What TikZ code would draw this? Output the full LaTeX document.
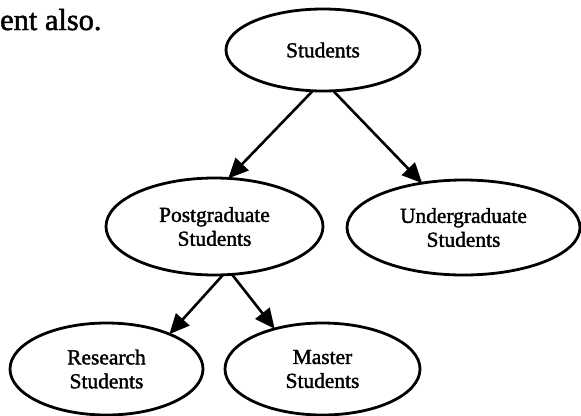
\documentclass[tikz,border=0pt]{standalone}
\usepackage{fontspec}
\setmainfont{Liberation Serif}
\newfontfamily\chartfont{Liberation Serif}[FakeBold=1.6]
\usetikzlibrary{shapes.geometric,arrows.meta}

\tikzset{
  oval/.style={ellipse, draw, line width=2.8bp, inner sep=0pt, outer sep=0pt,
    align=center, font=\chartfont\fontsize{21.5}{24}\selectfont},
  link/.style={line width=2.6bp, -{Triangle[length=20bp,width=18bp]}}
}

\begin{document}
\begin{tikzpicture}[x=1bp, y=-1bp]
  \useasboundingbox (0,0) rectangle (581,415);

  % end of the running paragraph above the chart
  \node[anchor=base west, inner sep=0pt, font=\chartfont\fontsize{30.5}{36}\selectfont]
    (para) at (0,30) {ent also.};

  % category tree
  \node[oval, minimum width=194bp, minimum height=82bp] (st) at (323,50) {Students};
  \node[oval, minimum width=217bp, minimum height=97bp] (pg) at (214.5,226.5)
    {Postgraduate\\Students};
  \node[oval, minimum width=233bp, minimum height=95bp] (ug) at (463.5,227.5)
    {Undergraduate\\Students};
  \node[oval, minimum width=193bp, minimum height=92bp] (rs) at (106.5,369)
    {Research\\Students};
  \node[oval, minimum width=195bp, minimum height=92bp] (ms) at (322.5,369)
    {Master\\Students};

  \draw[link] (st.256) -- (pg.74);
  \draw[link] (st.284) -- (ug.133);
  \draw[link] (pg.280) -- (rs.29);
  \draw[link] (pg.290) -- (ms.140);
\end{tikzpicture}
\end{document}
